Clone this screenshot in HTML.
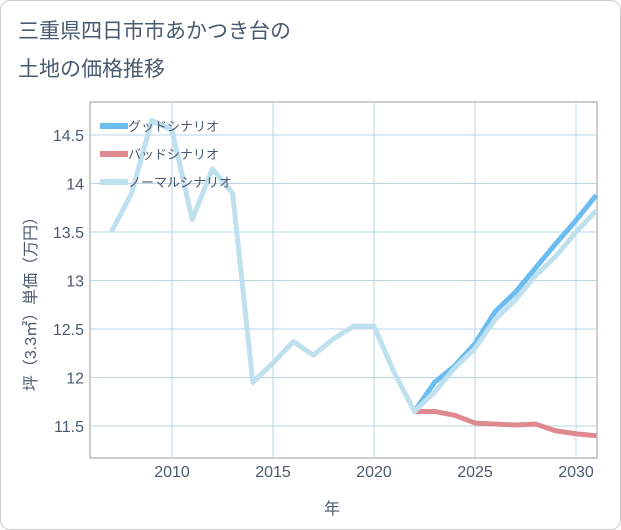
<!DOCTYPE html>
<html><head><meta charset="utf-8"><style>
body{margin:0;background:#fff;font-family:"Liberation Sans","Noto Sans CJK JP",sans-serif}
#wrap{position:relative;width:619px;height:528px;border:1px solid #ccc;border-radius:10px;background:#fff}
svg text{font-family:"Liberation Sans","Noto Sans CJK JP",sans-serif}
</style></head><body>
<div id="wrap">
<svg id="c" width="621" height="530" style="position:absolute;left:-1px;top:-1px">
<text x="18" y="38" font-size="21" fill="#4a5a70">三重県四日市市あかつき台の</text>
<text x="18" y="76" font-size="21" fill="#4a5a70">土地の価格推移</text>
<rect x="90" y="102" width="507" height="356" fill="#fff" stroke="#999"/>
<g id="grid"></g><g id="series"></g><g id="legend"></g>
<text x="332" y="514" font-size="16" fill="#4a5a70" text-anchor="middle">年</text>
<text transform="translate(36,300) rotate(-90)" font-size="16" fill="#4a5a70" text-anchor="middle">坪（3.3㎡）単価（万円）</text>
</svg></div>
<script>
const years=[2007,2008,2009,2010,2011,2012,2013,2014,2015,2016,2017,2018,2019,2020,2021,2022,2023,2024,2025,2026,2027,2028,2029,2030,2031];
const normal=[13.5,13.9,14.65,14.55,13.63,14.15,13.9,11.95,12.15,12.37,12.23,12.4,12.53,12.53,12.05,11.65,11.85,12.1,12.3,12.6,12.8,13.05,13.25,13.5,13.72];
const goodYears=[2022,2023,2024,2025,2026,2027,2028,2029,2030,2031];
const good=[11.65,11.95,12.12,12.35,12.68,12.88,13.13,13.38,13.62,13.88];
const bad=[11.65,11.65,11.61,11.53,11.52,11.51,11.52,11.45,11.42,11.40];
const xTicks=[2010,2015,2020,2025,2030];
const yTicks=[11.5,12,12.5,13,13.5,14,14.5];
const X=y=>172+(y-2010)*20.2, Y=v=>426-(v-11.5)*97;
const NS="http://www.w3.org/2000/svg";
function mk(p,t,a){const e=document.createElementNS(NS,t);for(const k in a)e.setAttribute(k,a[k]);p.appendChild(e);return e;}
const g=document.getElementById('grid');
xTicks.forEach(t=>{const l=mk(g,'line',{x1:X(t),x2:X(t),y1:102,y2:458,stroke:'#bcd6e6'});


const tx=mk(g,'text',{x:X(t),y:477,'font-size':16,fill:'#4a5a70','text-anchor':'middle'});tx.textContent=t;

});
yTicks.forEach(t=>{const l=mk(g,'line',{x1:90,x2:597,y1:Y(t),y2:Y(t),stroke:'#bcd6e6'});


const tx=mk(g,'text',{x:84,y:Y(t)+6,'font-size':16,fill:'#4a5a70','text-anchor':'end'});tx.textContent=t;

});
const s=document.getElementById('series');
function line(xs,vs,col,name){const p=mk(s,'polyline',{points:xs.map((x,i)=>X(x)+','+Y(vs[i])).join(' '),fill:'none',stroke:col,'stroke-width':5,'stroke-linejoin':'round'});

}
line(goodYears,good,'#6bbcf0','good-scenario-line');
line(goodYears,bad,'#df8a90','bad-scenario-line');
line(years,normal,'#bfe0ee','normal-scenario-line');
const lg=document.getElementById('legend');
[['グッドシナリオ','#6bbcf0'],['バッドシナリオ','#df8a90'],['ノーマルシナリオ','#bfe0ee']].forEach((d,i)=>{
const yy=126+i*28;const l=mk(lg,'line',{x1:100,x2:128,y1:yy,y2:yy,stroke:d[1],'stroke-width':6});


const t=mk(lg,'text',{x:128,y:yy+5,'font-size':13,fill:'#4a5a70'});t.textContent=d[0];

});
</script></body></html>
